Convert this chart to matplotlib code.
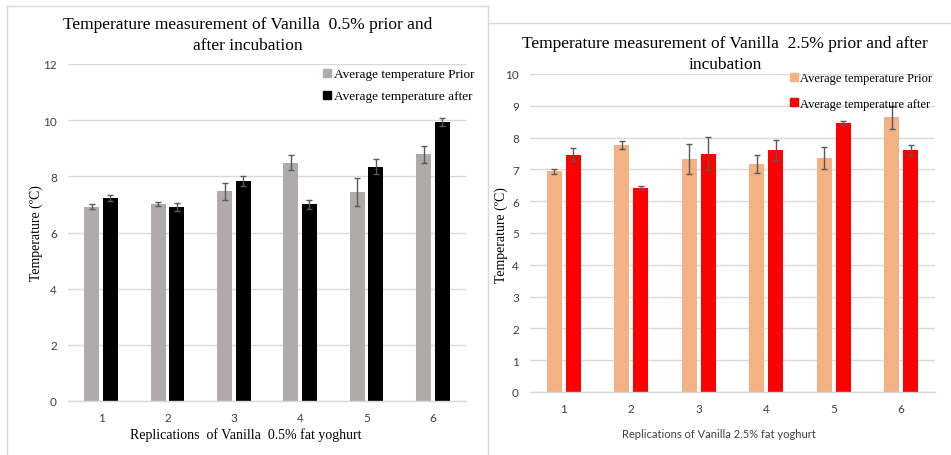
import matplotlib
matplotlib.use("Agg")
import matplotlib.pyplot as plt
from matplotlib.lines import Line2D
import numpy as np

# replications on the x axis
reps = ["1", "2", "3", "4", "5", "6"]

# Vanilla 0.5 %
prior_05 = [6.92, 7.01, 7.46, 8.49, 7.44, 8.79]
prior_05_err = [0.10, 0.07, 0.31, 0.27, 0.50, 0.30]
after_05 = [7.22, 6.92, 7.84, 7.01, 8.35, 9.94]
after_05_err = [0.10, 0.14, 0.17, 0.16, 0.25, 0.13]

# Vanilla 2.5 %
prior_25 = [6.94, 7.76, 7.33, 7.17, 7.36, 8.64]
prior_25_err = [0.07, 0.13, 0.46, 0.29, 0.34, 0.36]
after_25 = [7.46, 6.42, 7.49, 7.61, 8.46, 7.61]
after_25_err = [0.20, 0.05, 0.52, 0.31, 0.06, 0.17]

W, H = 951, 456
fig = plt.figure(figsize=(W / 100, H / 100), dpi=100)
fig.patch.set_facecolor("white")

serif = "Liberation Serif"
sans = "Lato"
grid_c = "#d9d9d9"
tick_c = "#404040"
err_c = "#595959"


def px(x, y):
	return x / W, 1 - y / H


def make_axes(x0, y_top, x1, y_bot):
	return fig.add_axes([x0 / W, 1 - y_bot / H, (x1 - x0) / W, (y_bot - y_top) / H])


def draw_bars(ax, prior, prior_err, after, after_err, c1, c2):
	x = np.arange(len(reps))
	bw = 0.225
	off = 0.14
	ax.bar(x - off, prior, bw, color=c1, zorder=2)
	ax.bar(x + off, after, bw, color=c2, zorder=2)
	ax.errorbar(x - off, prior, yerr=prior_err, fmt="none", ecolor=err_c, elinewidth=1, capsize=2.5, capthick=1, zorder=3)
	ax.errorbar(x + off, after, yerr=after_err, fmt="none", ecolor=err_c, elinewidth=1, capsize=2.5, capthick=1, zorder=3)
	ax.set_xlim(-0.5, len(reps) - 0.5)
	ax.set_xticks(x)
	ax.set_xticklabels(reps)
	for s in ["top", "right", "left"]:
		ax.spines[s].set_visible(False)
	ax.spines["bottom"].set_color(grid_c)
	ax.spines["bottom"].set_linewidth(1)
	ax.yaxis.grid(True, color=grid_c, linewidth=1)
	ax.set_axisbelow(True)
	ax.tick_params(length=0, labelsize=8.5, labelcolor=tick_c, pad=8)
	for lab in ax.get_xticklabels() + ax.get_yticklabels():
		lab.set_fontfamily(sans)


# ---- left chart
ax1 = make_axes(68, 65, 466, 402)
draw_bars(ax1, prior_05, prior_05_err, after_05, after_05_err, "#afabab", "#000000")
ax1.set_ylim(0, 12)
ax1.set_yticks(range(0, 13, 2))

fig.text(*px(248, 25), "Temperature measurement of Vanilla  0.5% prior and",
	ha="center", va="center", fontsize=12.5, family=serif)
fig.text(*px(248, 46), "after incubation",
	ha="center", va="center", fontsize=12.5, family=serif)
fig.text(*px(36, 233), "Temperature (ºC)", rotation=90, ha="center", va="center", fontsize=10, family=serif)
fig.text(*px(246, 435), "Replications  of Vanilla  0.5% fat yoghurt", ha="center", va="center", fontsize=10, family=serif)

h1 = [Line2D([], [], marker="s", color="#afabab", linestyle="none", markersize=5.5),
	Line2D([], [], marker="s", color="#000000", linestyle="none", markersize=5.5)]
fig.legend(h1, ["Average temperature Prior", "Average temperature after"], loc="upper left",
	bbox_to_anchor=px(323, 69), frameon=False, prop={"family": serif, "size": 9.5},
	handlelength=0.6, handletextpad=0.2, labelspacing=0.75, borderpad=0, borderaxespad=0)

# ---- right chart
ax2 = make_axes(530, 75, 935, 393)
draw_bars(ax2, prior_25, prior_25_err, after_25, after_25_err, "#f4b183", "#ff0000")
ax2.set_ylim(0, 10)
ax2.set_yticks(range(0, 11))

fig.text(*px(725, 44), "Temperature measurement of Vanilla  2.5% prior and after",
	ha="center", va="center", fontsize=12.5, family=serif)
fig.text(*px(725, 65), "incubation",
	ha="center", va="center", fontsize=12.5, family=serif)
fig.text(*px(501, 235), "Temperature (ºC)", rotation=90, ha="center", va="center", fontsize=10, family=serif)
fig.text(*px(719, 435), "Replications of Vanilla 2.5% fat yoghurt", ha="center", va="center", fontsize=8, family=sans, color="#404040")

h2 = [Line2D([], [], marker="s", color="#f4b183", linestyle="none", markersize=5.5),
	Line2D([], [], marker="s", color="#ff0000", linestyle="none", markersize=5.5)]
fig.legend(h2, ["Average temperature Prior", "Average temperature after"], loc="upper left",
	bbox_to_anchor=px(790, 73), frameon=False, prop={"family": serif, "size": 9},
	handlelength=0.6, handletextpad=0.2, labelspacing=1.1, borderpad=0, borderaxespad=0)

# panel borders
border = "#d9d9d9"
fig.add_artist(Line2D([7 / W, 7 / W], [0, 1 - 7 / H], color=border, lw=1, transform=fig.transFigure))
fig.add_artist(Line2D([7 / W, 488 / W], [1 - 7 / H, 1 - 7 / H], color=border, lw=1, transform=fig.transFigure))
fig.add_artist(Line2D([488 / W, 488 / W], [0, 1 - 7 / H], color=border, lw=1, transform=fig.transFigure))
fig.add_artist(Line2D([488 / W, 1], [1 - 24 / H, 1 - 24 / H], color=border, lw=1, transform=fig.transFigure))

fig.savefig("out.png", dpi=100)
